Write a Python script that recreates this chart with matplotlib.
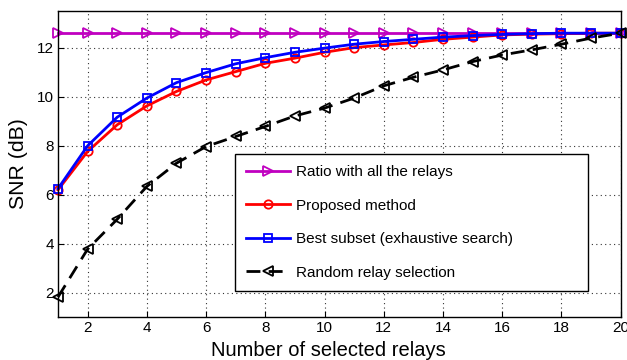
import numpy as np
import matplotlib
matplotlib.use("Agg")
import matplotlib.pyplot as plt

plt.rcParams['font.family'] = ['Liberation Sans', 'DejaVu Sans']

relays = np.arange(1, 21)
all_relays = [12.6] * 20
proposed = [6.2, 7.77, 8.86, 9.63, 10.22, 10.69, 11.03, 11.37, 11.58, 11.82,
            12.01, 12.12, 12.22, 12.35, 12.44, 12.53, 12.56, 12.58, 12.6, 12.6]
best_subset = [6.25, 8.0, 9.17, 9.95, 10.58, 10.99, 11.35, 11.6, 11.82, 11.99,
               12.15, 12.26, 12.35, 12.44, 12.5, 12.55, 12.58, 12.6, 12.6, 12.6]
random_sel = [1.82, 3.78, 5.0, 6.34, 7.29, 7.97, 8.38, 8.79, 9.22, 9.54,
              9.95, 10.45, 10.8, 11.1, 11.44, 11.71, 11.92, 12.15, 12.4, 12.6]

fig = plt.figure(figsize=(6.27, 3.6), dpi=100)
ax = fig.add_axes([0.0925, 0.119, 0.8975, 0.85])

style = dict(mfc='none', mew=1.3, lw=2, clip_on=False)
ax.plot(relays, all_relays, '-', color='#c000c0', marker='>', ms=6.5,
        label='Ratio with all the relays', **style)
ax.plot(relays, proposed, '-', color='red', marker='o', ms=6,
        label='Proposed method', **style)
ax.plot(relays, best_subset, '-', color='blue', marker='s', ms=5.5,
        label='Best subset (exhaustive search)', **style)
ax.plot(relays, random_sel, '--', color='black', marker='<', ms=6.5,
        dashes=(5, 3), label='Random relay selection', **style)

ax.set_xlim(1, 20)
ax.set_ylim(1, 13.5)
ax.set_xticks(np.arange(2, 21, 2))
ax.set_yticks(np.arange(2, 13, 2))
ax.grid(True, color='#333333', linestyle=(0, (1, 3)), lw=0.8)
ax.tick_params(labelsize=11, direction='in', length=4, pad=3)
for s in ax.spines.values():
    s.set_linewidth(1.0)

ax.set_xlabel('Number of selected relays', fontsize=14.5)
ax.xaxis.set_label_coords(0.481, -0.079)
ax.set_ylabel('SNR (dB)', fontsize=15.3)
ax.yaxis.set_label_coords(-0.053, 0.503)

leg = ax.legend(loc='lower left', bbox_to_anchor=(0.314, 0.085, 0.627, 0.454),
                mode='expand', borderaxespad=0, fontsize=11,
                fancybox=False, framealpha=1, edgecolor='black',
                handlelength=2.9, handletextpad=0.35, labelspacing=1.28,
                borderpad=0.75)
leg.get_frame().set_linewidth(1.0)

fig.savefig('out.png', dpi=100)
